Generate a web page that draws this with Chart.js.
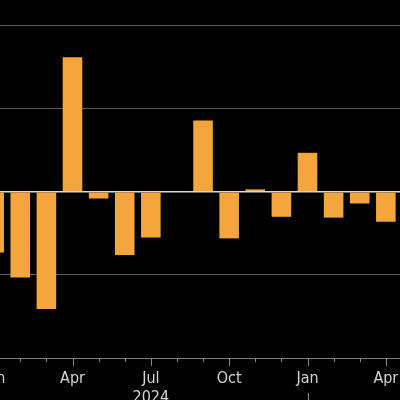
<!DOCTYPE html>
<html>
<head>
<meta charset="utf-8">
<script src="https://cdn.jsdelivr.net/npm/chart.js@4"></script>
<style>
  html, body { margin: 0; padding: 0; background: #000; overflow: hidden; width: 400px; height: 400px; }
  #wrap { position: absolute; left: -45px; top: -10px; width: 470px; height: 420px; }
</style>
</head>
<body>
<div id="wrap"><canvas id="chart"></canvas></div>
<script>
// monthly, Dec 2023 .. May 2025 (first and last fall outside the frame)
const months = ['Dec', 'Jan', 'Feb', 'Mar', 'Apr', 'May', 'Jun', 'Jul', 'Aug', 'Sep', 'Oct', 'Nov', 'Dec',
                'Jan', 'Feb', 'Mar', 'Apr', 'May'];
const years = [2023, 2024, 2024, 2024, 2024, 2024, 2024, 2024, 2024, 2024, 2024, 2024, 2024,
               2025, 2025, 2025, 2025, 2025];
const values = [null, -0.73, -1.03, -1.41, 1.62, -0.08, -0.76, -0.55, 0, 0.86, -0.56, 0.03, -0.30,
                0.47, -0.31, -0.14, -0.36, null];
const quarterMonths = ['Jan', 'Apr', 'Jul', 'Oct'];
const yearLabels = {7: '2024'};   // year label sits under mid-year month

const labels = months.map((m, i) => m + ' ' + years[i]);

const tickMarks = {
    id: 'tickMarks',
    afterDraw(chart) {
        const x = chart.scales.x;
        const c = chart.ctx;
        c.save();
        c.strokeStyle = '#8a8a8a';
        c.lineWidth = 1;
        months.forEach((m, i) => {
            const px = Math.round(x.getPixelForTick(i)) + 0.5;
            const len = quarterMonths.includes(m) ? 8 : 4;
            c.beginPath();
            c.moveTo(px, x.top);
            c.lineTo(px, x.top + len);
            c.stroke();
            if (m === 'Jan' && i > 0) {
                c.beginPath();
                c.moveTo(px, x.top + 35);
                c.lineTo(px, x.top + 60);
                c.stroke();
            }
        });
        c.restore();
    }
};

new Chart(document.getElementById('chart'), {
    type: 'bar',
    data: {
        labels: labels,
        datasets: [{
            data: values,
            backgroundColor: '#f4a53c',
            barPercentage: 0.75,
            categoryPercentage: 1.0
        }]
    },
    options: {
        responsive: true,
        maintainAspectRatio: false,
        animation: false,
        layout: { padding: 0 },
        plugins: { legend: { display: false }, tooltip: { enabled: false } },
        scales: {
            x: {
                offset: true,
                grid: { display: false, drawTicks: false },
                border: { display: true, color: '#7a7a7a', width: 1 },
                ticks: {
                    autoSkip: false,
                    maxRotation: 0,
                    padding: 11,
                    color: '#d4d4d4',
                    font: { family: "'DejaVu Sans Condensed', 'DejaVu Sans', sans-serif", size: 16, lineHeight: 1.2 },
                    callback: (v, i) => {
                        if (!quarterMonths.includes(months[i])) return '';
                        return yearLabels[i] ? [months[i], yearLabels[i]] : months[i];
                    }
                },
                afterFit: s => { s.height = 52; }
            },
            y: {
                min: -2,
                max: 2.43,
                grid: {
                    drawTicks: false,
                    color: ctx => ctx.tick.value === 0 ? '#dcdcdc' : '#5a5a5a',
                    lineWidth: ctx => ctx.tick.value === 0 ? 1.5 : 1
                },
                border: { display: false },
                ticks: { display: false, stepSize: 1 },
                afterBuildTicks: s => { s.ticks = s.ticks.filter(t => Number.isInteger(t.value)); },
                afterFit: s => { s.width = 0; }
            }
        }
    },
    plugins: [tickMarks]
});
</script>
</body>
</html>
